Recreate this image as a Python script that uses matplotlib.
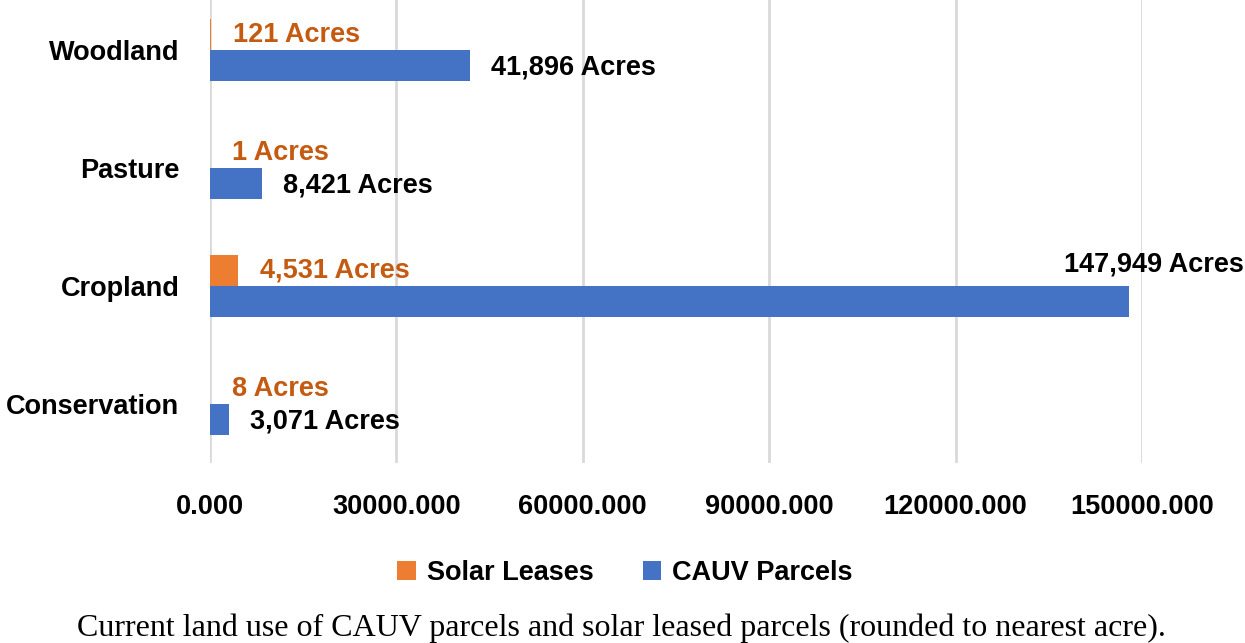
import matplotlib.pyplot as plt
import numpy as np
from matplotlib.ticker import FormatStrFormatter

categories = ['Woodland', 'Pasture', 'Cropland', 'Conservation']
solar_leases = [121, 1, 4531, 8]
cauv_parcels = [41896, 8421, 147949, 3071]
x_ticks = [0, 30000, 60000, 90000, 120000, 150000]

ORANGE = '#ED7D31'
BLUE = '#4472C4'
ORANGE_TEXT = '#C55A11'
FS = 19.5

plt.rcParams['font.family'] = ['Liberation Sans', 'DejaVu Sans']
plt.rcParams['font.weight'] = 'bold'

W, H = 1245, 643
fig = plt.figure(figsize=(W / 100, H / 100), dpi=100)
ax = fig.add_axes([210 / W, 1 - 463 / H, (1142 - 210) / W, 463 / H])

y = np.arange(len(categories))
h = 0.26
ax.barh(y - h / 2, solar_leases, height=h, color=ORANGE, label='Solar Leases', zorder=3)
ax.barh(y + h / 2, cauv_parcels, height=h, color=BLUE, label='CAUV Parcels', zorder=3)

for i, v in enumerate(solar_leases):
    ax.annotate(f'{v:,} Acres', (v, i - h / 2), xytext=(16, 0), textcoords='offset points',
                ha='left', va='center', color=ORANGE_TEXT, fontsize=FS, fontweight='bold')
for i, v in enumerate(cauv_parcels):
    if v > 140000:
        # Excel pushed this one above the bar, against the right edge
        ax.annotate(f'{v:,} Acres', (1244 / W, 1 - 264 / H), xycoords='figure fraction',
                    ha='right', va='center', color='black', fontsize=FS, fontweight='bold')
    else:
        ax.annotate(f'{v:,} Acres', (v, i + h / 2 + 0.02), xytext=(15, 0), textcoords='offset points',
                    ha='left', va='center', color='black', fontsize=FS, fontweight='bold')

ax.set_xlim(0, 150000)
ax.set_ylim(3.5, -0.424)
ax.set_xticks(x_ticks)
ax.xaxis.set_major_formatter(FormatStrFormatter('%.3f'))
ax.set_yticks(y)
ax.set_yticklabels(categories)
ax.tick_params(axis='both', length=0, labelsize=FS)
ax.tick_params(axis='x', pad=22)
ax.tick_params(axis='y', pad=22)
for lab in ax.get_xticklabels() + ax.get_yticklabels():
    lab.set_fontweight('bold')
ax.grid(axis='x', color='#D9D9D9', linewidth=2, zorder=0)
for s in ax.spines.values():
    s.set_visible(False)

fig.legend(loc='center', bbox_to_anchor=(625 / W, 1 - 573 / H), ncol=2, frameon=False,
           handlelength=0.7, handleheight=0.7, handletextpad=0.4, columnspacing=1.8,
           prop={'weight': 'bold', 'size': FS})

fig.text(621 / W, 1 - 628 / H,
         'Current land use of CAUV parcels and solar leased parcels (rounded to nearest acre).',
         ha='center', va='center', fontsize=23, family='Liberation Serif', fontweight='normal')

fig.savefig('out.png', dpi=100)
